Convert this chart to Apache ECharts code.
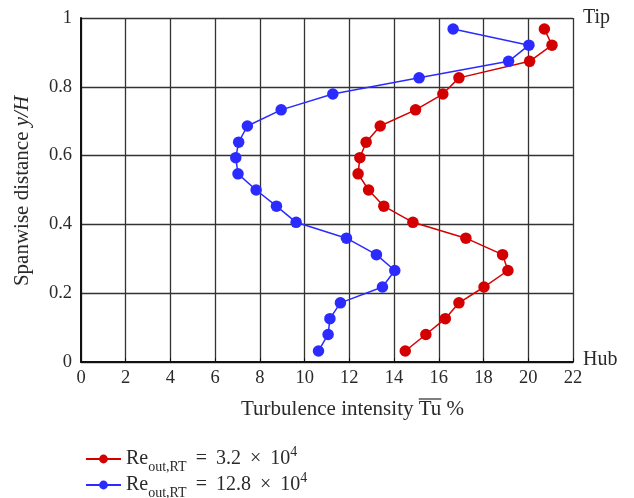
<!DOCTYPE html>
<html><head><meta charset="utf-8">
<script src="https://cdn.jsdelivr.net/npm/echarts@6/dist/echarts.min.js"></script>
<style>html,body{margin:0;padding:0;background:#fff}#c{width:634px;height:498px}</style>
</head><body><div id="c"></div>
<script>
// Spanwise positions y/H (same for both series)
const spanPos = [0.032,0.080,0.126,0.172,0.218,0.266,0.312,0.360,0.406,0.453,0.500,0.547,0.594,0.639,0.686,0.733,0.779,0.826,0.874,0.921,0.968];
// Turbulence intensity Tu % for Re = 3.2e4
const tuLow = [14.50,15.42,16.29,16.90,18.02,19.09,18.85,17.21,14.84,13.54,12.86,12.39,12.47,12.75,13.38,14.96,16.18,16.90,20.06,21.06,20.72];
// Turbulence intensity Tu % for Re = 12.8e4
const tuHigh = [10.62,11.05,11.13,11.60,13.48,14.03,13.21,11.87,9.62,8.74,7.83,7.02,6.92,7.05,7.44,8.95,11.26,15.12,19.12,20.03,16.64];
const seriesNames = ['low','high'];
const xTicks = [0,2,4,6,8,10,12,14,16,18,20,22];
const yTicks = [0,0.2,0.4,0.6,0.8,1];

const FONT = '"Liberation Serif", "DejaVu Serif", serif';
const TXT = '#2a2a2a';
const chart = echarts.init(document.getElementById('c'));
const legendText = {
  low: '{a|Re}{s|out,RT}{a|\u2009 = \u20093.2 \u2009×\u2009 10}{p|4}',
  high: '{a|Re}{s|out,RT}{a|\u2009 = \u200912.8 \u2009×\u2009 10}{p|4}'
};
const legendRich = {
  a: {fontFamily: FONT, fontSize: 20, color: TXT, lineHeight: 26},
  s: {fontFamily: FONT, fontSize: 14, color: TXT, lineHeight: 14, verticalAlign: 'bottom', padding: [0,0,-2,0]},
  p: {fontFamily: FONT, fontSize: 14, color: TXT, lineHeight: 14, verticalAlign: 'top', padding: [-1,0,0,0]}
};
function mkLegend(name, top) {
  return {
    orient: 'vertical', left: 80, top: top,
    itemWidth: 35, itemHeight: 11, itemGap: 0, itemTextGap: 9,
    data: [name], formatter: n => legendText[n],
    textStyle: {rich: legendRich}
  };
}
// overline position for "Tu" in the x-axis title
const titleFont = '21px ' + FONT;
const ctx = document.createElement('canvas').getContext('2d');
ctx.font = titleFont;
const titleLeft = 241;
const preW = ctx.measureText('Turbulence intensity ').width;
const tuW = ctx.measureText('Tu').width;

chart.setOption({
  animation: false,
  backgroundColor: '#fff',
  grid: {left: 81, right: 61, top: 18, bottom: 136},
  xAxis: {
    type: 'value', min: xTicks[0], max: xTicks[xTicks.length-1], interval: 2,
    axisLine: {lineStyle: {color: '#111', width: 2}},
    axisTick: {show: true, inside: true, length: 4, lineStyle: {color: '#111'}},
    axisLabel: {color: TXT, fontFamily: FONT, fontSize: 18.5, margin: 7},
    splitLine: {lineStyle: {color: '#333', width: 1.3}}
  },
  yAxis: {
    type: 'value', min: yTicks[0], max: yTicks[yTicks.length-1], interval: 0.2,
    axisLine: {lineStyle: {color: '#111', width: 2}},
    axisTick: {show: false},
    axisLabel: {color: TXT, fontFamily: FONT, fontSize: 18.5, margin: 9},
    splitLine: {lineStyle: {color: '#333', width: 1.3}}
  },
  legend: [mkLegend('low', 440), mkLegend('high', 466)],
  graphic: [
    {type: 'text', x: 583, y: 18, style: {text: 'Tip', font: '20px ' + FONT, fill: TXT, verticalAlign: 'middle'}},
    {type: 'text', x: 583, y: 360, style: {text: 'Hub', font: '20px ' + FONT, fill: TXT, verticalAlign: 'middle'}},
    {type: 'text', x: titleLeft, y: 409, style: {text: 'Turbulence intensity Tu %', font: titleFont, fill: TXT, align: 'left', verticalAlign: 'middle'}},
    {type: 'line', shape: {x1: titleLeft + preW, y1: 399, x2: titleLeft + preW + tuW, y2: 399}, style: {stroke: TXT, lineWidth: 1.2}},
    {type: 'text', x: 22, y: 191, rotation: Math.PI/2,
     style: {text: '{n|Spanwise distance }{i|y/H}', align: 'center', verticalAlign: 'middle',
       rich: {n: {fontFamily: FONT, fontSize: 21, fill: TXT, color: TXT},
              i: {fontFamily: FONT, fontSize: 21, fontStyle: 'italic', fill: TXT, color: TXT}}}}
  ],
  series: [
    {name: 'low', type: 'line', data: tuLow.map((v,i)=>[v, spanPos[i]]),
     symbol: 'circle', symbolSize: 11.5, color: '#d40000',
     lineStyle: {width: 1.5, color: '#d40000'}, itemStyle: {color: '#d40000'}},
    {name: 'high', type: 'line', data: tuHigh.map((v,i)=>[v, spanPos[i]]),
     symbol: 'circle', symbolSize: 11.5, color: '#2b2bff',
     lineStyle: {width: 1.5, color: '#2b2bff'}, itemStyle: {color: '#2b2bff'}}
  ]
});
</script></body></html>
